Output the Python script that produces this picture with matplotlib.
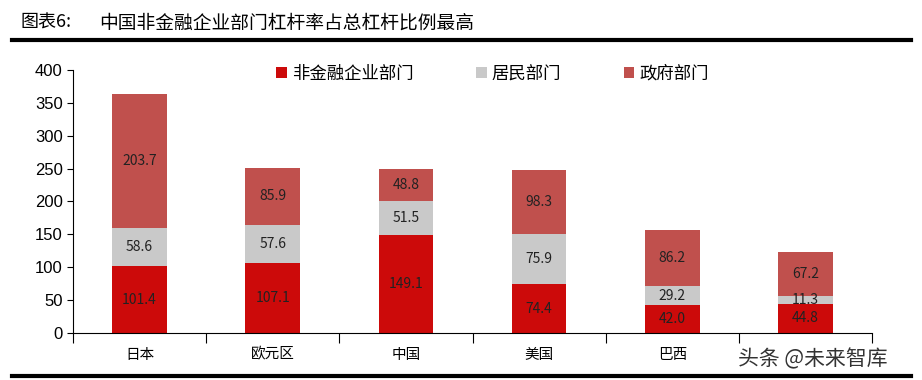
import matplotlib
matplotlib.use('Agg')
import matplotlib.pyplot as plt
import numpy as np

plt.rcParams['font.family'] = ['Noto Sans CJK SC', 'DejaVu Sans']

countries = ['日本', '欧元区', '中国', '美国', '巴西', '']
corp = [101.4, 107.1, 149.1, 74.4, 42.0, 44.8]
house = [58.6, 57.6, 51.5, 75.9, 29.2, 11.3]
gov = [203.7, 85.9, 48.8, 98.3, 86.2, 67.2]
series_names = ['非金融企业部门', '居民部门', '政府部门']
colors = ['#CC0A0A', '#C9C9C9', '#C0504D']

fig = plt.figure(figsize=(9.22, 3.80), dpi=100)
ax = fig.add_axes([0.0792, 0.1237, 0.8666, 0.6921])

x = np.arange(len(countries))
w = 0.41
bottoms = np.zeros(len(countries))
for vals, c, name in zip([corp, house, gov], colors, series_names):
    ax.bar(x, vals, w, bottom=bottoms, color=c, label=name)
    for xi, b, v in zip(x, bottoms, vals):
        ax.text(xi, b + v / 2, f'{v:.1f}', ha='center', va='center',
                fontsize=10, color='#222222')
    bottoms += np.array(vals)

ax.set_xlim(-0.5, len(countries) - 0.5)
ax.set_ylim(0, 400)
ax.set_yticks(range(0, 401, 50))
ax.tick_params(axis='y', labelsize=12, direction='out', length=4)
for t in ax.get_yticklabels():
    t.set_family('Liberation Sans')
ax.set_xticks(np.arange(-0.5, len(countries), 1))
ax.set_xticklabels([])
ax.tick_params(axis='x', direction='out', length=7)
for xi, lab in zip(x, countries):
    ax.text(xi, -33, lab, ha='center', va='center', fontsize=10.5)
ax.spines['top'].set_visible(False)
ax.spines['right'].set_visible(False)

ax.legend(loc='upper left', bbox_to_anchor=(0.235, 1.08), ncol=3, frameon=False,
          fontsize=12.5, handlelength=0.6, handleheight=0.6, columnspacing=3.6,
          handletextpad=0.3)

fig.text(0.022, 0.94, '图表6:', fontsize=13, va='center', ha='left')
fig.text(0.108, 0.94, '中国非金融企业部门杠杆率占总杠杆比例最高',
         fontsize=13.5, va='center', ha='left')
fig.add_artist(plt.Line2D([0.013, 0.988], [0.895, 0.895], color='black', lw=3))
fig.add_artist(plt.Line2D([0.013, 0.988], [0.01, 0.01], color='black', lw=3))
fig.text(0.80, 0.055, '头条 @未来智库', fontsize=15, color='#333333',
         va='center', ha='left')

fig.savefig('out.png', dpi=100)
